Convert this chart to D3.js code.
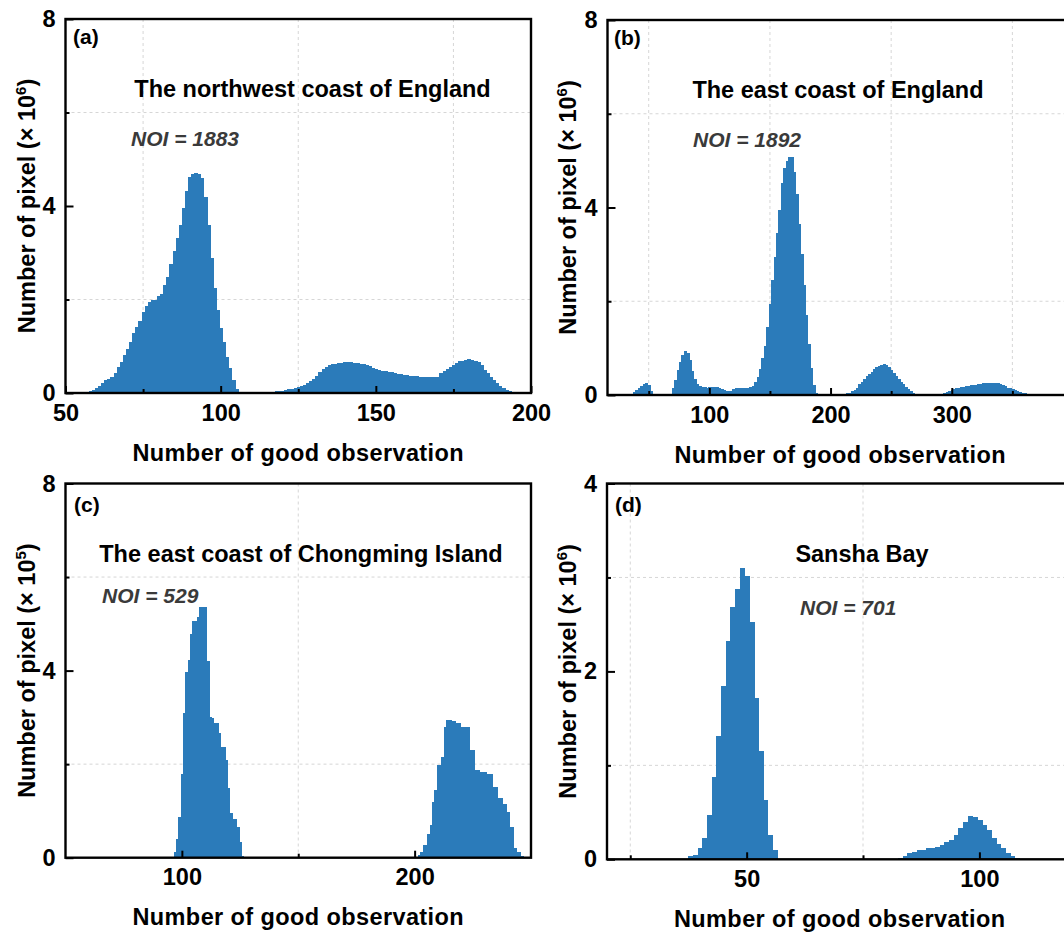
<!DOCTYPE html>
<html>
<head>
<meta charset="utf-8">
<script src="https://cdn.jsdelivr.net/npm/d3@7"></script>
<style>
body { margin: 0; background: #fff; }
svg { display: block; font-family: "Liberation Sans", Arial, sans-serif; font-weight: bold; }
</style>
</head>
<body>
<script>
// (a) northwest coast of England, bins of 1 from 57
const startA = 57;
const countsA = [
    0.01, 0.035, 0.065, 0.11, 0.16, 0.22, 0.28, 0.31, 0.35, 0.42,
    0.55, 0.67, 0.81, 0.95, 1.10, 1.28, 1.42, 1.55, 1.74, 1.87,
    1.95, 1.98, 2.00, 2.07, 2.11, 2.30, 2.49, 2.77, 3.04, 3.32,
    3.59, 3.95, 4.32, 4.61, 4.68, 4.70, 4.68, 4.59, 4.20, 3.59,
    2.88, 2.24, 1.78, 1.38, 1.10, 0.78, 0.53, 0.28, 0.09, 0.02,
    0.01, 0.01, 0.01, 0.01, 0.01, 0.01, 0.01, 0.015, 0.015, 0.02,
    0.03, 0.035, 0.04, 0.05, 0.06, 0.075, 0.09, 0.105, 0.12, 0.145,
    0.17, 0.21, 0.26, 0.31, 0.37, 0.44, 0.51, 0.56, 0.59, 0.62,
    0.63, 0.64, 0.65, 0.655, 0.66, 0.66, 0.65, 0.64, 0.62, 0.61,
    0.59, 0.57, 0.54, 0.51, 0.49, 0.47, 0.46, 0.45, 0.44, 0.43,
    0.41, 0.40, 0.39, 0.38, 0.37, 0.36, 0.355, 0.35, 0.345, 0.34,
    0.34, 0.34, 0.34, 0.35, 0.42, 0.47, 0.51, 0.56, 0.60, 0.65,
    0.68, 0.69, 0.71, 0.72, 0.70, 0.68, 0.66, 0.60, 0.50, 0.43,
    0.35, 0.28, 0.21, 0.15, 0.11, 0.07, 0.05, 0.03, 0.025, 0.02,
    0.015, 0.01, 0.005
];

// (b) east coast of England, bins of 2 from 34
const startB = 34;
const countsB = [
    0.01, 0.03, 0.06, 0.10, 0.16, 0.20, 0.23, 0.26, 0.22, 0.08,
    0.01, 0, 0, 0, 0, 0, 0, 0.02, 0.15, 0.33,
    0.53, 0.70, 0.85, 0.93, 0.90, 0.74, 0.52, 0.35, 0.24, 0.20,
    0.18, 0.17, 0.16, 0.17, 0.18, 0.18, 0.17, 0.15, 0.13, 0.10,
    0.08, 0.08, 0.09, 0.12, 0.14, 0.16, 0.16, 0.15, 0.16, 0.16,
    0.17, 0.20, 0.27, 0.38, 0.55, 0.78, 1.05, 1.45, 1.95, 2.45,
    2.95, 3.45, 3.95, 4.52, 4.85, 5.00, 5.08, 5.07, 4.75, 4.28,
    3.65, 3.00, 2.35, 1.70, 1.08, 0.58, 0.22, 0.05, 0.01, 0,
    0, 0, 0, 0, 0, 0.005, 0.01, 0.015, 0.02, 0.03,
    0.04, 0.05, 0.08, 0.11, 0.16, 0.23, 0.28, 0.34, 0.40, 0.45,
    0.50, 0.55, 0.59, 0.62, 0.65, 0.66, 0.64, 0.60, 0.54, 0.47,
    0.41, 0.35, 0.28, 0.23, 0.18, 0.13, 0.09, 0.05, 0.03, 0.015,
    0.005, 0, 0, 0, 0, 0, 0, 0.005, 0.01, 0.025,
    0.04, 0.055, 0.075, 0.10, 0.12, 0.14, 0.155, 0.17, 0.18, 0.19,
    0.20, 0.205, 0.21, 0.22, 0.23, 0.24, 0.25, 0.26, 0.26, 0.26,
    0.26, 0.255, 0.25, 0.24, 0.22, 0.19, 0.16, 0.14, 0.12, 0.11,
    0.08, 0.06, 0.045, 0.035, 0.025, 0.015, 0.01
];

// (c) east coast of Chongming Island (x 10^5), two groups of unit bins
const startC1 = 97;
const countsC1 = [
    0.13, 0.41, 0.88, 1.80, 3.09, 3.98, 4.23, 4.78, 5.07, 5.07,
    5.15, 5.35, 5.35, 5.35, 4.20, 3.00, 2.99, 2.87, 2.87, 2.66,
    2.37, 2.37, 2.09, 1.48, 0.95, 0.83, 0.83, 0.66, 0.34, 0.04
];
const startC2 = 202;
const countsC2 = [
    0.06, 0.13, 0.27, 0.27, 0.50, 0.70, 1.20, 1.45, 1.98, 1.98,
    2.16, 2.80, 2.94, 2.94, 2.92, 2.92, 2.87, 2.87, 2.80, 2.80,
    2.80, 2.80, 2.30, 2.30, 1.87, 1.87, 1.84, 1.84, 1.84, 1.78,
    1.78, 1.78, 1.52, 1.52, 1.27, 1.27, 1.14, 1.14, 0.98, 0.66,
    0.66, 0.20, 0.13, 0.13, 0.04
];

// (d) Sansha Bay, unit bins
const startD1 = 38;
const countsD1 = [
    0.03, 0.05, 0.12, 0.23, 0.47, 0.88, 1.31, 1.84, 2.32, 2.69,
    2.88, 3.10, 3.02, 2.53, 1.72, 1.15, 0.63, 0.26, 0.10
];
const startD2 = 83;
const countsD2 = [
    0.01, 0.04, 0.065, 0.075, 0.10, 0.10, 0.12, 0.12, 0.135, 0.15,
    0.18, 0.21, 0.26, 0.33, 0.40, 0.46, 0.45, 0.42, 0.37, 0.31,
    0.23, 0.16, 0.12, 0.07, 0.035, 0.01
];

const width = 1064;
const height = 933;
const barColor = '#2b7bba';
const fontSize = 23.5;

const svg = d3.select('body').append('svg').
    attr('width', width).
    attr('height', height);

const panels = [
    {
        tag: '(a)', title: 'The northwest coast of England', noi: 'NOI = 1883', exp: '6',
        segments: [{ start: startA, step: 1, counts: countsA }],
        left: 65.5, top: 19, w: 465.5, h: 374,
        xDomain: [50, 200], yMax: 8,
        xMajor: [50, 100, 150, 200], xMinor: [75, 125, 175],
        yMajor: [0, 4, 8], yMinor: [2, 6],
        tagPos: [73, 44], titlePos: [312.5, 97], noiPos: [131, 146], yLabelX: 34.5
    },
    {
        tag: '(b)', title: 'The east coast of England', noi: 'NOI = 1892', exp: '6',
        segments: [{ start: startB, step: 2, counts: countsB }],
        left: 607.5, top: 20, w: 465.5, h: 375,
        xDomain: [16, 400], yMax: 8,
        xMajor: [100, 200, 300], xMinor: [50, 150, 250, 350],
        yMajor: [0, 4, 8], yMinor: [2, 6],
        tagPos: [614, 45], titlePos: [838, 98], noiPos: [693, 147], yLabelX: 576
    },
    {
        tag: '(c)', title: 'The east coast of Chongming Island', noi: 'NOI = 529', exp: '5',
        segments: [
            { start: startC1, step: 1, counts: countsC1 },
            { start: startC2, step: 1, counts: countsC2 }
        ],
        left: 65.5, top: 483.5, w: 465.5, h: 374.2,
        xDomain: [50, 250], yMax: 8,
        xMajor: [100, 200], xMinor: [150],
        yMajor: [0, 4, 8], yMinor: [2, 6],
        tagPos: [74, 512], titlePos: [301, 561.5], noiPos: [102, 603], yLabelX: 34.5
    },
    {
        tag: '(d)', title: 'Sansha Bay', noi: 'NOI = 701', exp: '6',
        segments: [
            { start: startD1, step: 1, counts: countsD1 },
            { start: startD2, step: 1, counts: countsD2 }
        ],
        left: 607, top: 483.5, w: 465.5, h: 375.8,
        xDomain: [20, 120], yMax: 4,
        xMajor: [50, 100], xMinor: [25, 75],
        yMajor: [0, 2, 4], yMinor: [1, 3],
        tagPos: [615, 512], titlePos: [862, 561.5], noiPos: [800, 615], yLabelX: 576
    }
];

const drawPanel = (p) => {
    const g = svg.append('g').attr('transform', `translate(${p.left}, ${p.top})`);

    const x = d3.scaleLinear().domain(p.xDomain).range([0, p.w]);
    const y = d3.scaleLinear().domain([0, p.yMax]).range([p.h, 0]);

    // dashed grid on minor ticks
    g.selectAll('line.gx').data(p.xMinor).join('line').
        attr('class', 'gx').
        attr('x1', d => x(d)).attr('x2', d => x(d)).
        attr('y1', 0).attr('y2', p.h).
        attr('stroke', '#d6d6d6').attr('stroke-width', 1).attr('stroke-dasharray', '3,3');
    g.selectAll('line.gy').data(p.yMinor).join('line').
        attr('class', 'gy').
        attr('x1', 0).attr('x2', p.w).
        attr('y1', d => y(d)).attr('y2', d => y(d)).
        attr('stroke', '#d6d6d6').attr('stroke-width', 1).attr('stroke-dasharray', '3,3');

    // histogram bars (slight overlap so no seams show)
    p.segments.forEach((s, k) => {
        const bins = s.counts.map((c, i) => ({ v: s.start + i * s.step, c }));
        g.selectAll(`rect.bar${k}`).data(bins).join('rect').
            attr('class', `bar${k}`).
            attr('x', d => x(d.v - s.step / 2)).
            attr('width', d => x(d.v + s.step / 2) - x(d.v - s.step / 2) + 0.9).
            attr('y', d => y(d.c)).
            attr('height', d => y(0) - y(d.c)).
            attr('fill', barColor).
            attr('shape-rendering', 'crispEdges');
    });

    // axes: inward ticks
    g.append('g').attr('transform', `translate(0, ${p.h})`).
        call(d3.axisBottom(x).tickValues(p.xMajor).tickSizeInner(-7).tickSizeOuter(0).tickPadding(11).tickFormat(d3.format('d')));
    g.append('g').attr('transform', `translate(0, ${p.h})`).
        call(d3.axisBottom(x).tickValues(p.xMinor).tickSizeInner(-4).tickSizeOuter(0).tickFormat(''));
    g.append('g').
        call(d3.axisLeft(y).tickValues(p.yMajor).tickSizeInner(-8).tickSizeOuter(0).tickPadding(10).tickFormat(d3.format('d')));
    g.append('g').
        call(d3.axisLeft(y).tickValues(p.yMinor).tickSizeInner(-4).tickSizeOuter(0).tickFormat(''));

    g.selectAll('.domain').remove();
    g.selectAll('.tick line').attr('stroke', '#000').attr('stroke-width', 2);
    g.selectAll('.tick text').
        attr('fill', '#000').
        attr('font-size', fontSize).
        attr('font-family', '"Liberation Sans", Arial, sans-serif').
        attr('font-weight', 'bold');

    // frame
    g.append('rect').
        attr('width', p.w).attr('height', p.h).
        attr('fill', 'none').attr('stroke', '#000').attr('stroke-width', 2.4);

    // labels
    svg.append('text').
        attr('x', p.tagPos[0]).attr('y', p.tagPos[1]).
        attr('font-size', 21).text(p.tag);

    svg.append('text').
        attr('x', p.titlePos[0]).attr('y', p.titlePos[1]).
        attr('text-anchor', 'middle').
        attr('font-size', fontSize).text(p.title);

    svg.append('text').
        attr('x', p.noiPos[0]).attr('y', p.noiPos[1]).
        attr('font-size', 21).attr('font-style', 'italic').
        attr('fill', '#3a3a3a').text(p.noi);

    svg.append('text').
        attr('x', p.left + p.w / 2).attr('y', p.top + p.h + 67.5).
        attr('text-anchor', 'middle').
        attr('font-size', fontSize).attr('letter-spacing', 0.4).
        text('Number of good observation');

    const yl = svg.append('text').
        attr('transform', `translate(${p.yLabelX}, ${p.top + p.h / 2}) rotate(-90)`).
        attr('text-anchor', 'middle').
        attr('font-size', fontSize);
    yl.append('tspan').text('Number of pixel (\u00d7 10');
    yl.append('tspan').attr('dy', -9).attr('font-size', 15).text(p.exp);
    yl.append('tspan').attr('dy', 9).text(')');
};

panels.forEach(drawPanel);
</script>
</body>
</html>
